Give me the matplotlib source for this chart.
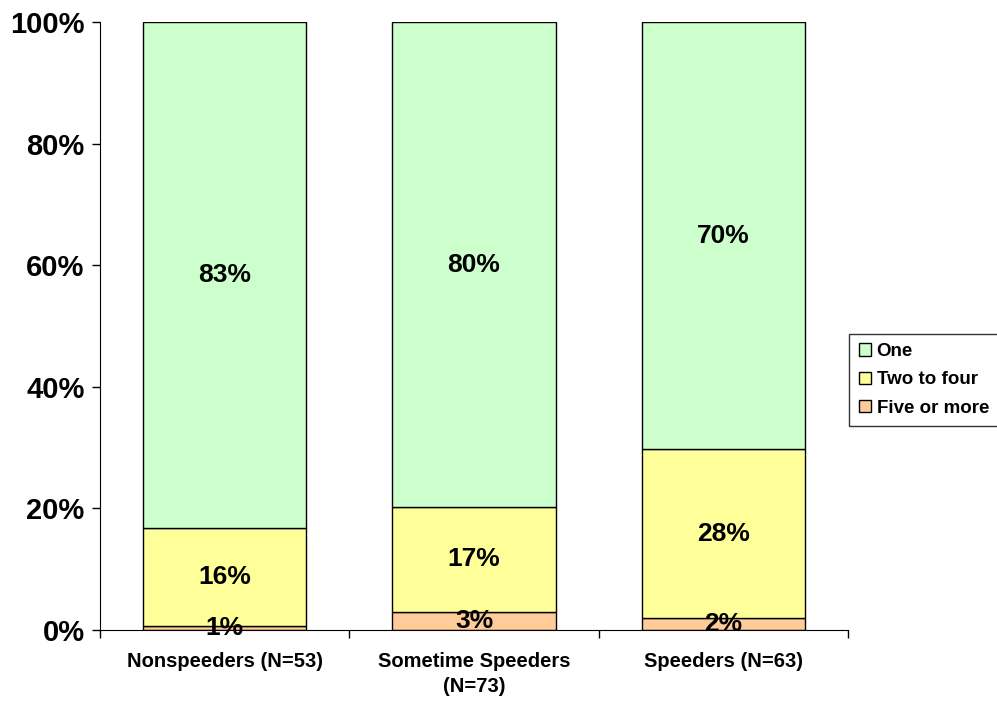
import numpy as np
import matplotlib.pyplot as plt

plt.rcParams['font.family'] = ['Liberation Sans', 'DejaVu Sans']
plt.rcParams['font.weight'] = 'bold'

groups = ['Nonspeeders (N=53)', 'Sometime Speeders\n(N=73)', 'Speeders (N=63)']
five_plus = [0.6, 3.0, 2.0]
two_four = [16.2, 17.2, 27.7]
one = [83.2, 79.8, 70.3]
five_lbl = ['1%', '3%', '2%']
two_lbl = ['16%', '17%', '28%']
one_lbl = ['83%', '80%', '70%']

fig = plt.figure(figsize=(9.97, 7.01), dpi=100)
ax = fig.add_axes([0.1003, 0.1013, 0.7503, 0.8673])

x = np.arange(len(groups))
w = 0.655
b1 = ax.bar(x, five_plus, w, color='#FFCC99', edgecolor='black', linewidth=1, label='Five or more')
b2 = ax.bar(x, two_four, w, bottom=five_plus, color='#FFFF99', edgecolor='black', linewidth=1, label='Two to four')
bottom3 = np.array(five_plus) + np.array(two_four)
b3 = ax.bar(x, one, w, bottom=bottom3, color='#CCFFCC', edgecolor='black', linewidth=1, label='One')

for i in range(len(groups)):
    ax.text(x[i], five_plus[i] / 2, five_lbl[i], ha='center', va='center', fontsize=19, fontweight='bold', clip_on=False, zorder=5)
    ax.text(x[i], five_plus[i] + two_four[i] / 2, two_lbl[i], ha='center', va='center', fontsize=19, fontweight='bold')
    ax.text(x[i], bottom3[i] + one[i] / 2, one_lbl[i], ha='center', va='center', fontsize=19, fontweight='bold')

ax.set_xlim(-0.5, 2.5)
ax.set_ylim(0, 100)
ax.set_yticks([0, 20, 40, 60, 80, 100])
ax.set_yticklabels(['0%', '20%', '40%', '60%', '80%', '100%'], fontsize=21, fontweight='bold')
ax.set_xticks(x)
ax.set_xticklabels(groups, fontsize=14.5, fontweight='bold', linespacing=1.4)
ax.set_xticks([-0.5, 0.5, 1.5, 2.5], minor=True)
ax.tick_params(axis='x', which='major', length=0, pad=16)
ax.tick_params(axis='x', which='minor', length=6, direction='out', width=1)
ax.tick_params(axis='y', length=6, direction='out', width=1, pad=5)
ax.spines['top'].set_visible(False)
ax.spines['right'].set_visible(False)

handles = [b3, b2, b1]
leg = ax.legend(handles, ['One', 'Two to four', 'Five or more'], loc='center left',
                bbox_to_anchor=(0.852, 0.458), bbox_transform=fig.transFigure,
                frameon=True, fancybox=False, edgecolor='black', fontsize=13.5,
                handlelength=0.65, handleheight=0.65, handletextpad=0.3,
                borderpad=0.5, labelspacing=0.6, borderaxespad=0)
leg.get_frame().set_linewidth(1)
for t in leg.get_texts():
    t.set_fontweight('bold')

fig.savefig('out.png', dpi=100)
